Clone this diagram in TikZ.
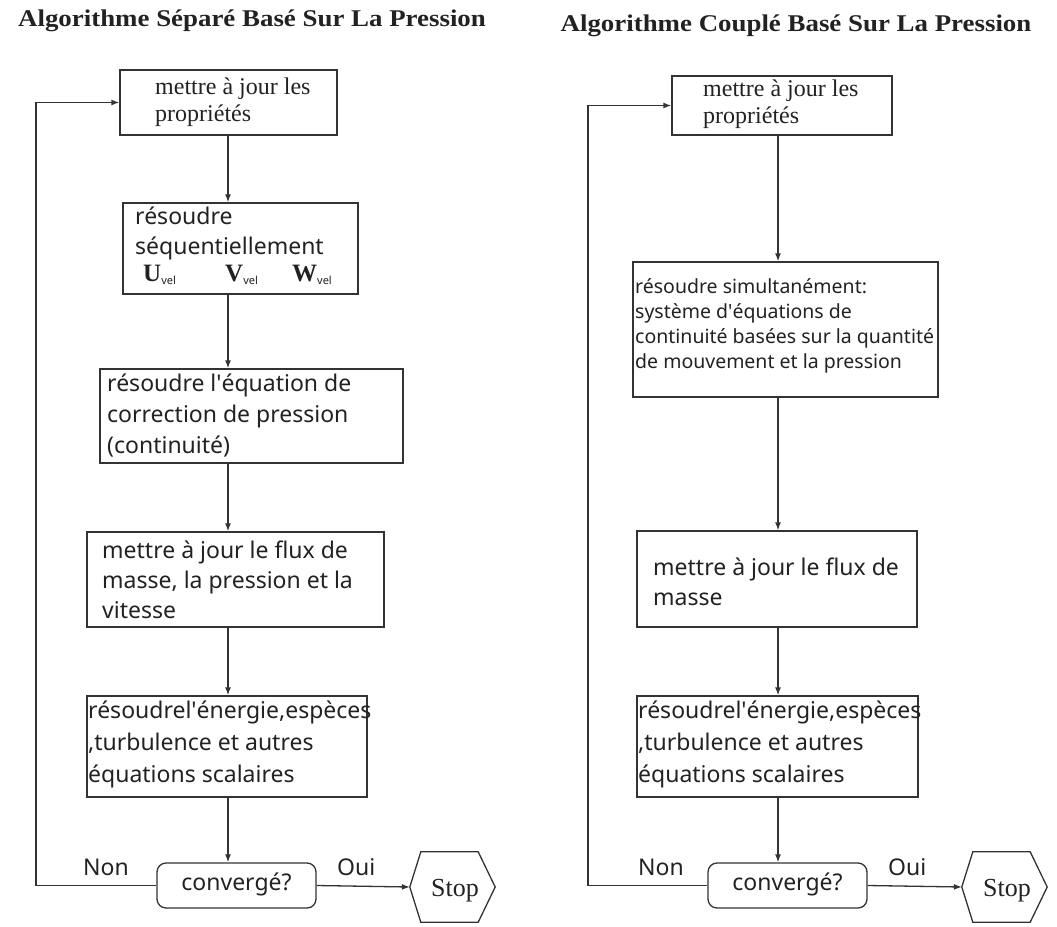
\documentclass[tikz,border=0pt]{standalone}
\usepackage{fontspec}
\setmainfont{Noto Sans}
\newfontfamily\tnr{Liberation Serif}
\newfontfamily\tnrtitle[FakeStretch=1.12]{Liberation Serif}
\usetikzlibrary{arrows.meta,fit}
\definecolor{lc}{HTML}{333333}
\definecolor{tc}{HTML}{222222}
\newcommand\ml[1]{\begin{tabular}[t]{@{}l@{}}#1\end{tabular}}
\newcommand\vel[1]{{\tnr\bfseries\fontsize{25}{25}\selectfont #1}\raisebox{-3pt}{\fontsize{11}{11}\selectfont vel}}
\begin{document}
\begin{tikzpicture}[x=1pt,y=-1pt,
  box/.style={draw=lc, line width=1.3pt, inner sep=0pt},
  arr/.style={draw=lc, line width=1.3pt, -{Latex[length=8pt,width=6pt]}},
  ln/.style={draw=lc, line width=1.3pt},
  txt/.style={anchor=base west, inner sep=0pt, text=tc},
  ttl/.style={anchor=base, inner sep=0pt, text=tc, font=\tnrtitle\bfseries\fontsize{24}{28}\selectfont},
  sA/.style={font=\fontsize{23}{30}\selectfont},
  sB/.style={font=\fontsize{23}{31}\selectfont},
  sC/.style={font=\fontsize{23}{32}\selectfont},
  sD/.style={font=\fontsize{19.5}{25}\selectfont},
  ser/.style={font=\tnr\fontsize{24}{27}\selectfont},
  stp/.style={font=\tnr\fontsize{26}{26}\selectfont}
]
\fill[white] (0,0) rectangle (1057,926);
\useasboundingbox (0,0) rectangle (1057,926);

% titles
\node[ttl] (tL) at (252,27) {Algorithme Séparé Basé Sur La Pression};
\node[ttl] (tR) at (796,31) {Algorithme Couplé Basé Sur La Pression};

% ---------------- left column ----------------
\coordinate (xL) at (228,0);
\node[box, fit={(120,70) (337,135)}] (b1L) {};
\node[txt, ser] (t1L) at (155,94) {\ml{mettre à jour les\\propriétés}};

\node[box, fit={(123,203) (358,294)}] (b2L) {};
\node[txt, sA] (t2L) at (135,224) {\ml{résoudre\\séquentiellement}};
\node[txt] (uL) at (143,281) {\vel{U}};
\node[txt] (vL) at (225,281) {\vel{V}};
\node[txt] (wL) at (292,281) {\vel{W}};

\node[box, fit={(100,369) (403,463)}] (b3L) {};
\node[txt, sB] (t3L) at (107,391) {\ml{résoudre l\textquotesingle équation de\\correction de pression\\(continuité)}};

\node[box, fit={(87,532) (384,627)}] (b4L) {};
\node[txt, sA] (t4L) at (102,558) {\ml{mettre à jour le flux de\\masse, la pression et la\\vitesse}};

\node[box, fit={(87,696) (367,797)}] (b5L) {};
\node[txt, sC] (t5L) at (88,718) {\ml{résoudrel\textquotesingle énergie,espèces\\,turbulence et autres\\équations scalaires}};

\node[box, rounded corners=9pt, fit={(157,863) (316,908)}] (cL) {};
\node[anchor=base, inner sep=0pt, text=tc, sA] (tcL) at (236.5,890) {convergé?};
\node[txt, sA] (nonL) at (83,875) {Non};
\node[txt, sA] (ouiL) at (337,875) {Oui};

\node[inner sep=0pt, minimum width=85pt, minimum height=70pt] (hL) at (452.5,887) {};
\draw[ln] (hL.west) -- ([xshift=11pt]hL.north west) -- ([xshift=-17pt]hL.north east) -- (hL.east)
  -- ([xshift=-17pt]hL.south east) -- ([xshift=11pt]hL.south west) -- cycle;
\node[anchor=base, inner sep=0pt, text=tc, stp] (sL) at (455,896) {Stop};

\draw[arr] (b1L.south -| xL) -- (b2L.north -| xL);
\draw[arr] (b2L.south -| xL) -- (b3L.north -| xL);
\draw[arr] (b3L.south -| xL) -- (b4L.north -| xL);
\draw[arr] (b4L.south -| xL) -- (b5L.north -| xL);
\draw[arr] (b5L.south -| xL) -- (cL.north -| xL);
\draw[arr] (cL.east) -- (hL.west);
\coordinate (loopL) at (36,0);
\draw[arr] (cL.west) -- (cL.west -| loopL) -- (b1L.west -| loopL) -- (b1L.west);

% ---------------- right column ----------------
\coordinate (xR) at (778,0);
\node[box, fit={(672,76) (892,135)}] (b1R) {};
\node[txt, ser] (t1R) at (703,96) {\ml{mettre à jour les\\propriétés}};

\node[box, fit={(633,262) (938,397)}] (b2R) {};
\node[txt, sD] (t2R) at (635,293) {\ml{résoudre simultanément:\\système d\textquotesingle équations de\\continuité basées sur la quantité\\de mouvement et la pression}};

\node[box, fit={(637,531) (917,627)}] (b3R) {};
\node[txt, sA] (t3R) at (653,575) {\ml{mettre à jour le flux de\\masse}};

\node[box, fit={(637,696) (918,797)}] (b4R) {};
\node[txt, sC] (t4R) at (638,718) {\ml{résoudrel\textquotesingle énergie,espèces\\,turbulence et autres\\équations scalaires}};

\node[box, rounded corners=9pt, fit={(708,863) (867,908)}] (cR) {};
\node[anchor=base, inner sep=0pt, text=tc, sA] (tcR) at (787.5,890) {convergé?};
\node[txt, sA] (nonR) at (638,875) {Non};
\node[txt, sA] (ouiR) at (888,875) {Oui};

\node[inner sep=0pt, minimum width=85pt, minimum height=70pt] (hR) at (1004.5,887) {};
\draw[ln] (hR.west) -- ([xshift=11pt]hR.north west) -- ([xshift=-17pt]hR.north east) -- (hR.east)
  -- ([xshift=-17pt]hR.south east) -- ([xshift=11pt]hR.south west) -- cycle;
\node[anchor=base, inner sep=0pt, text=tc, stp] (sR) at (1007,896) {Stop};

\draw[arr] (b1R.south -| xR) -- (b2R.north -| xR);
\draw[arr] (b2R.south -| xR) -- (b3R.north -| xR);
\draw[arr] (b3R.south -| xR) -- (b4R.north -| xR);
\draw[arr] (b4R.south -| xR) -- (cR.north -| xR);
\draw[arr] (cR.east) -- (hR.west);
\coordinate (loopR) at (588,0);
\draw[arr] (cR.west) -- (cR.west -| loopR) -- (b1R.west -| loopR) -- (b1R.west);
\end{tikzpicture}
\end{document}
